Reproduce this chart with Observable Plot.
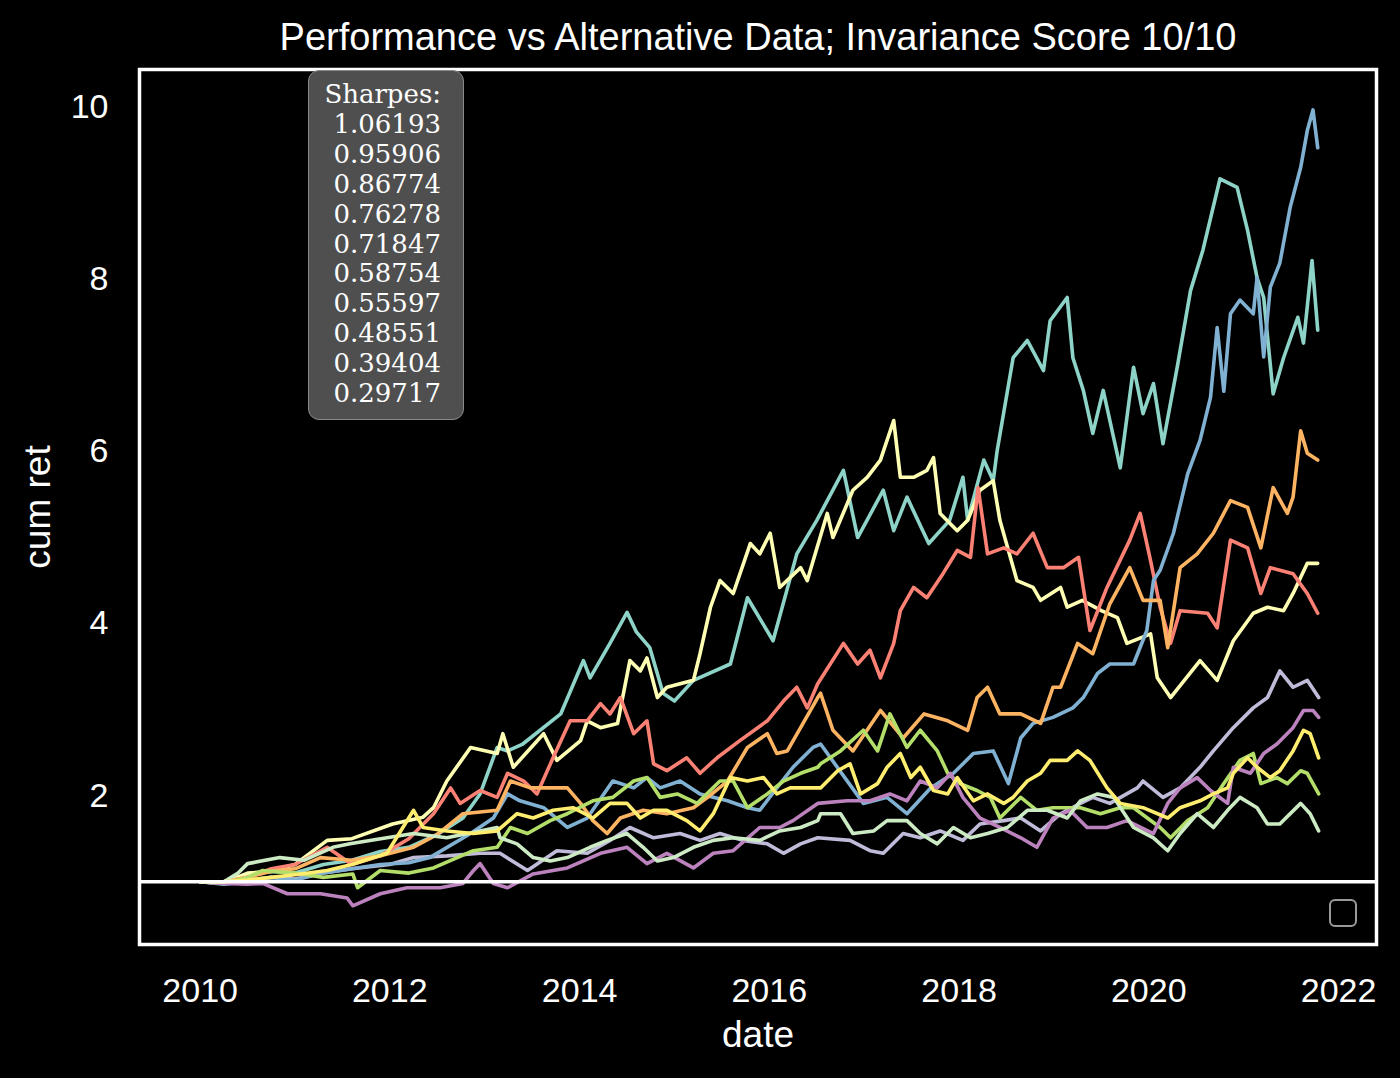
<!DOCTYPE html>
<html>
<head>
<meta charset="utf-8">
<script src="https://cdn.jsdelivr.net/npm/d3@7"></script>
<script src="https://cdn.jsdelivr.net/npm/@observablehq/plot@0.6"></script>
<style>
  html, body { margin: 0; padding: 0; background: #000; }
  #wrap { position: relative; width: 1400px; height: 1078px; background: #000; overflow: hidden; }
  #sharpes {
    position: absolute; left: 308px; top: 70px; width: 156px; height: 350px;
    box-sizing: border-box; background: #4f4f4f; border: 1.5px solid #8a8a8a; border-radius: 11px;
    font-family: "DejaVu Serif", serif; font-size: 26px; line-height: 29.9px; color: #fff;
    text-align: right; padding: 9px 22px 0 0; white-space: pre;
  }
  #legendbox {
    position: absolute; left: 1329px; top: 899px; width: 28px; height: 28px; box-sizing: border-box;
    border: 2.5px solid #9a9a9a; border-radius: 6px;
  }
</style>
</head>
<body>
<div id="wrap"><div id="chart"></div><div id="sharpes"></div><div id="legendbox"></div></div>
<script>
// ---- data (decimal year, cumulative return) ----
const seriesNames = ["s1","s2","s3","s4","s5","s6","s7","s8","s9","s10"];
const seriesColors = ["#8dd3c7","#feffb3","#bfbbd9","#fa8174","#81b1d2","#fdb462","#b3de69","#bc82bd","#ccebc4","#ffed6f"];
const sharpeValues = ["1.06193","0.95906","0.86774","0.76278","0.71847","0.58754","0.55597","0.48551","0.39404","0.29717"];
const xTickYears = [2010,2012,2014,2016,2018,2020,2022];
const yTickValues = [2,4,6,8,10];

const s1 = [[2010.0,1.0],[2010.25,1.0],[2010.5,1.08],[2010.75,1.12],[2011.0,1.1],[2011.3,1.2],[2011.6,1.25],[2011.9,1.35],[2012.2,1.4],[2012.5,1.55],[2012.77,1.74],[2012.95,2.02],[2013.13,2.56],[2013.24,2.52],[2013.4,2.6],[2013.8,2.95],[2014.04,3.57],[2014.11,3.37],[2014.32,3.77],[2014.5,4.13],[2014.6,3.9],[2014.74,3.72],[2014.88,3.19],[2015.0,3.1],[2015.2,3.34],[2015.59,3.53],[2015.77,4.30],[2016.04,3.8],[2016.29,4.81],[2016.5,5.2],[2016.78,5.78],[2016.93,5.0],[2017.2,5.55],[2017.31,5.08],[2017.45,5.47],[2017.68,4.93],[2017.9,5.2],[2018.04,5.70],[2018.09,5.2],[2018.26,5.9],[2018.36,5.66],[2018.4,6.0],[2018.57,7.09],[2018.72,7.29],[2018.89,6.94],[2018.96,7.52],[2019.14,7.79],[2019.2,7.09],[2019.31,6.71],[2019.41,6.21],[2019.52,6.71],[2019.70,5.81],[2019.84,6.98],[2019.94,6.44],[2020.05,6.79],[2020.15,6.09],[2020.30,6.98],[2020.44,7.87],[2020.57,8.34],[2020.75,9.17],[2020.93,9.07],[2021.04,8.57],[2021.14,8.02],[2021.21,7.79],[2021.31,6.67],[2021.42,7.09],[2021.57,7.56],[2021.63,7.26],[2021.72,8.22],[2021.78,7.41]];
const s2 = [[2010.0,1.0],[2010.25,0.99],[2010.5,1.1],[2010.75,1.12],[2011.0,1.2],[2011.34,1.48],[2011.6,1.5],[2012.03,1.67],[2012.35,1.75],[2012.46,1.86],[2012.6,2.17],[2012.85,2.56],[2013.13,2.49],[2013.19,2.72],[2013.30,2.33],[2013.62,2.72],[2013.76,2.41],[2014.01,2.64],[2014.08,2.87],[2014.22,2.79],[2014.40,2.84],[2014.53,3.57],[2014.64,3.45],[2014.71,3.6],[2014.82,3.14],[2014.92,3.26],[2015.2,3.34],[2015.27,3.65],[2015.38,4.19],[2015.48,4.5],[2015.62,4.35],[2015.80,4.93],[2015.90,4.81],[2016.01,5.05],[2016.11,4.42],[2016.33,4.65],[2016.40,4.5],[2016.61,5.28],[2016.67,5.0],[2016.88,5.55],[2017.03,5.70],[2017.17,5.9],[2017.31,6.36],[2017.38,5.7],[2017.52,5.7],[2017.66,5.78],[2017.73,5.93],[2017.80,5.28],[2017.98,5.08],[2018.09,5.2],[2018.22,5.55],[2018.36,5.66],[2018.43,5.2],[2018.61,4.5],[2018.78,4.42],[2018.86,4.27],[2019.07,4.42],[2019.14,4.19],[2019.3,4.27],[2019.5,4.15],[2019.67,4.07],[2019.77,3.77],[2020.02,3.88],[2020.09,3.37],[2020.23,3.14],[2020.54,3.57],[2020.72,3.34],[2020.89,3.8],[2021.10,4.12],[2021.25,4.19],[2021.42,4.15],[2021.52,4.35],[2021.67,4.7],[2021.78,4.7]];
const s3 = [[2010.0,1.0],[2010.25,0.98],[2010.5,1.02],[2010.75,1.05],[2011.0,1.03],[2011.3,1.1],[2011.6,1.15],[2012.0,1.2],[2012.25,1.28],[2012.6,1.3],[2012.95,1.33],[2013.16,1.33],[2013.45,1.13],[2013.76,1.36],[2014.08,1.33],[2014.32,1.48],[2014.53,1.63],[2014.78,1.51],[2015.06,1.56],[2015.27,1.48],[2015.48,1.56],[2015.72,1.48],[2015.98,1.44],[2016.15,1.33],[2016.33,1.44],[2016.51,1.51],[2016.85,1.48],[2017.06,1.36],[2017.20,1.33],[2017.41,1.56],[2017.59,1.51],[2017.80,1.59],[2018.04,1.48],[2018.22,1.67],[2018.47,1.71],[2018.65,1.74],[2018.86,1.59],[2019.07,1.79],[2019.28,1.91],[2019.41,1.98],[2019.59,1.91],[2019.88,2.09],[2019.94,2.17],[2020.15,1.98],[2020.33,2.09],[2020.54,2.33],[2020.68,2.52],[2020.89,2.79],[2021.10,3.02],[2021.25,3.14],[2021.38,3.45],[2021.52,3.26],[2021.67,3.34],[2021.79,3.14]];
const s4 = [[2010.0,1.0],[2010.25,1.0],[2010.5,1.05],[2010.75,1.15],[2011.0,1.2],[2011.34,1.40],[2011.6,1.2],[2011.9,1.3],[2012.2,1.5],[2012.46,1.79],[2012.64,2.09],[2012.74,1.91],[2012.95,2.06],[2013.13,1.98],[2013.24,2.26],[2013.41,2.17],[2013.55,2.02],[2013.72,2.44],[2013.90,2.87],[2014.08,2.87],[2014.22,3.07],[2014.32,2.95],[2014.43,3.14],[2014.57,2.72],[2014.71,2.87],[2014.78,2.37],[2014.92,2.29],[2015.13,2.44],[2015.27,2.26],[2015.45,2.44],[2015.69,2.64],[2015.98,2.87],[2016.15,3.1],[2016.29,3.26],[2016.40,3.02],[2016.51,3.30],[2016.78,3.77],[2016.93,3.53],[2017.06,3.69],[2017.17,3.37],[2017.31,3.77],[2017.38,4.15],[2017.52,4.42],[2017.66,4.30],[2017.83,4.58],[2017.98,4.85],[2018.12,4.77],[2018.20,5.58],[2018.30,4.81],[2018.47,4.88],[2018.61,4.81],[2018.78,5.05],[2018.93,4.65],[2019.10,4.65],[2019.26,4.77],[2019.38,3.92],[2019.56,4.42],[2019.80,4.97],[2019.91,5.28],[2020.02,4.73],[2020.12,4.19],[2020.23,3.77],[2020.33,4.15],[2020.62,4.12],[2020.72,3.95],[2020.86,4.97],[2021.04,4.88],[2021.18,4.35],[2021.28,4.65],[2021.52,4.58],[2021.67,4.35],[2021.78,4.12]];
const s5 = [[2010.0,1.0],[2010.25,0.97],[2010.5,1.0],[2010.75,1.05],[2011.0,1.02],[2011.3,1.1],[2011.6,1.15],[2011.9,1.2],[2012.2,1.22],[2012.42,1.28],[2012.85,1.56],[2013.09,1.74],[2013.24,2.02],[2013.37,1.94],[2013.62,1.86],[2013.87,1.63],[2014.08,1.74],[2014.35,2.17],[2014.57,2.09],[2014.71,2.21],[2014.85,2.09],[2015.06,2.17],[2015.27,2.02],[2015.56,1.94],[2015.77,1.86],[2015.90,1.83],[2016.08,2.09],[2016.25,2.33],[2016.46,2.56],[2016.54,2.6],[2016.99,1.91],[2017.24,1.98],[2017.45,1.79],[2017.70,2.09],[2017.94,2.26],[2018.15,2.49],[2018.36,2.52],[2018.52,2.14],[2018.65,2.67],[2018.78,2.84],[2018.99,2.91],[2019.20,3.02],[2019.31,3.14],[2019.46,3.42],[2019.59,3.53],[2019.84,3.53],[2019.98,3.92],[2020.05,4.5],[2020.12,4.62],[2020.26,5.05],[2020.41,5.74],[2020.54,6.13],[2020.65,6.63],[2020.72,7.44],[2020.79,6.7],[2020.86,7.60],[2020.96,7.76],[2021.10,7.60],[2021.14,8.02],[2021.21,7.1],[2021.28,7.91],[2021.38,8.19],[2021.49,8.84],[2021.60,9.30],[2021.67,9.73],[2021.73,9.97],[2021.78,9.53]];
const s6 = [[2010.0,1.0],[2010.25,1.0],[2010.5,1.05],[2010.75,1.12],[2011.0,1.15],[2011.27,1.28],[2011.6,1.25],[2011.9,1.3],[2012.25,1.40],[2012.5,1.55],[2012.77,1.79],[2013.13,1.83],[2013.27,2.17],[2013.48,2.09],[2013.72,2.09],[2013.87,2.09],[2014.01,1.91],[2014.14,1.71],[2014.29,1.56],[2014.43,1.74],[2014.67,1.83],[2014.92,1.79],[2015.20,1.86],[2015.35,1.98],[2015.56,2.17],[2015.77,2.56],[2015.98,2.72],[2016.08,2.49],[2016.19,2.52],[2016.33,2.79],[2016.51,3.14],[2016.54,3.19],[2016.67,2.76],[2016.88,2.52],[2017.17,2.99],[2017.41,2.67],[2017.63,2.95],[2017.88,2.87],[2018.09,2.76],[2018.19,3.14],[2018.30,3.26],[2018.43,2.95],[2018.65,2.95],[2018.86,2.84],[2018.99,3.26],[2019.07,3.26],[2019.25,3.77],[2019.41,3.65],[2019.59,4.23],[2019.80,4.65],[2019.94,4.27],[2020.12,4.27],[2020.20,3.72],[2020.33,4.65],[2020.51,4.81],[2020.68,5.05],[2020.86,5.43],[2021.04,5.35],[2021.18,4.88],[2021.31,5.58],[2021.46,5.28],[2021.52,5.47],[2021.60,6.24],[2021.67,5.98],[2021.78,5.90]];
const s7 = [[2010.0,1.0],[2010.25,0.98],[2010.5,1.05],[2010.66,1.13],[2011.0,1.1],[2011.3,1.05],[2011.61,1.09],[2011.66,0.93],[2011.90,1.13],[2012.2,1.1],[2012.46,1.16],[2012.88,1.36],[2013.13,1.40],[2013.27,1.63],[2013.45,1.56],[2013.69,1.71],[2013.87,1.79],[2014.14,1.94],[2014.35,1.98],[2014.57,2.17],[2014.71,2.21],[2014.85,1.98],[2015.03,2.02],[2015.24,1.91],[2015.48,2.17],[2015.62,2.17],[2015.77,1.86],[2015.98,2.02],[2016.15,2.17],[2016.33,2.26],[2016.51,2.33],[2016.54,2.37],[2016.75,2.52],[2016.99,2.76],[2017.14,2.52],[2017.27,2.95],[2017.45,2.56],[2017.59,2.76],[2017.77,2.52],[2017.88,2.26],[2018.01,2.14],[2018.19,2.06],[2018.33,1.98],[2018.43,1.74],[2018.65,1.98],[2018.82,1.83],[2018.99,1.86],[2019.28,1.86],[2019.49,1.79],[2019.70,1.86],[2019.84,1.86],[2020.12,1.63],[2020.23,1.51],[2020.41,1.71],[2020.62,1.86],[2020.79,2.14],[2020.96,2.41],[2021.10,2.49],[2021.18,2.14],[2021.35,2.21],[2021.46,2.14],[2021.60,2.29],[2021.67,2.26],[2021.79,2.02]];
const s8 = [[2010.0,1.0],[2010.25,0.98],[2010.5,0.97],[2010.66,0.98],[2010.92,0.86],[2011.27,0.86],[2011.55,0.81],[2011.61,0.72],[2011.90,0.86],[2012.18,0.93],[2012.53,0.93],[2012.77,0.98],[2012.88,1.13],[2012.95,1.21],[2013.09,0.98],[2013.24,0.93],[2013.51,1.09],[2013.87,1.16],[2014.22,1.33],[2014.50,1.40],[2014.71,1.21],[2014.92,1.33],[2015.20,1.16],[2015.41,1.33],[2015.62,1.36],[2015.90,1.63],[2016.11,1.63],[2016.25,1.71],[2016.51,1.91],[2016.82,1.94],[2017.06,1.94],[2017.27,2.02],[2017.45,1.94],[2017.59,2.17],[2017.77,2.09],[2017.91,2.26],[2018.04,1.98],[2018.22,1.74],[2018.43,1.63],[2018.65,1.51],[2018.82,1.40],[2018.99,1.74],[2019.17,1.83],[2019.35,1.63],[2019.56,1.63],[2019.77,1.71],[2020.05,1.56],[2020.20,1.91],[2020.33,2.09],[2020.51,2.21],[2020.65,2.06],[2020.83,1.91],[2020.89,2.33],[2021.07,2.26],[2021.21,2.49],[2021.35,2.60],[2021.52,2.79],[2021.63,2.99],[2021.73,2.99],[2021.79,2.91]];
const s9 = [[2010.0,1.0],[2010.25,1.0],[2010.4,1.1],[2010.5,1.21],[2010.84,1.28],[2011.1,1.25],[2011.40,1.40],[2011.58,1.44],[2011.97,1.51],[2012.25,1.56],[2012.60,1.51],[2012.95,1.59],[2013.13,1.63],[2013.16,1.51],[2013.34,1.44],[2013.51,1.28],[2013.69,1.24],[2013.87,1.28],[2014.11,1.40],[2014.29,1.48],[2014.50,1.56],[2014.67,1.40],[2014.82,1.24],[2014.99,1.28],[2015.20,1.40],[2015.41,1.48],[2015.62,1.51],[2015.90,1.48],[2016.11,1.59],[2016.33,1.63],[2016.51,1.71],[2016.54,1.79],[2016.75,1.79],[2016.88,1.56],[2017.10,1.59],[2017.24,1.71],[2017.45,1.71],[2017.59,1.56],[2017.77,1.44],[2017.94,1.63],[2018.12,1.51],[2018.30,1.56],[2018.51,1.63],[2018.72,1.83],[2018.93,1.83],[2019.14,1.74],[2019.28,1.94],[2019.46,2.02],[2019.63,1.98],[2019.84,1.63],[2020.05,1.51],[2020.20,1.36],[2020.33,1.56],[2020.51,1.79],[2020.68,1.63],[2020.83,1.83],[2020.96,1.98],[2021.14,1.86],[2021.25,1.67],[2021.38,1.67],[2021.60,1.91],[2021.70,1.79],[2021.79,1.59]];
const s10 = [[2010.0,1.0],[2010.25,1.0],[2010.5,1.02],[2010.75,1.05],[2011.0,1.08],[2011.34,1.13],[2011.6,1.2],[2011.97,1.33],[2012.25,1.83],[2012.35,1.63],[2012.60,1.59],[2012.88,1.56],[2013.13,1.59],[2013.34,1.79],[2013.51,1.74],[2013.72,1.83],[2013.93,1.86],[2014.14,1.74],[2014.32,1.91],[2014.50,1.91],[2014.64,1.74],[2014.78,1.83],[2014.92,1.83],[2015.13,1.71],[2015.27,1.59],[2015.41,1.79],[2015.59,2.21],[2015.77,2.17],[2015.94,2.21],[2016.08,2.02],[2016.22,2.09],[2016.40,2.09],[2016.54,2.09],[2016.72,2.29],[2016.85,2.37],[2016.96,2.02],[2017.14,2.14],[2017.24,2.33],[2017.38,2.49],[2017.49,2.21],[2017.59,2.33],[2017.73,2.06],[2017.88,2.02],[2017.98,2.21],[2018.15,1.94],[2018.30,2.02],[2018.47,1.91],[2018.57,1.98],[2018.72,2.17],[2018.86,2.26],[2018.96,2.41],[2019.14,2.41],[2019.25,2.52],[2019.38,2.41],[2019.56,2.09],[2019.70,1.91],[2019.94,1.86],[2020.20,1.74],[2020.33,1.86],[2020.54,1.94],[2020.68,2.02],[2020.83,2.09],[2020.89,2.26],[2021.04,2.44],[2021.14,2.33],[2021.28,2.21],[2021.38,2.29],[2021.52,2.52],[2021.63,2.76],[2021.70,2.72],[2021.79,2.44]];

const seriesData = [s1,s2,s3,s4,s5,s6,s7,s8,s9,s10];
const xDomainYears = [2009.36, 2022.40];
const yDomain = [0.27, 10.44];

// ---- build ----
function yearToDate(y) {
  const yr = Math.floor(y);
  const a = Date.UTC(yr, 0, 1), b = Date.UTC(yr + 1, 0, 1);
  return new Date(a + (y - yr) * (b - a));
}
const rows = [];
seriesData.forEach((arr, i) => arr.forEach(([t, v]) => rows.push({series: seriesNames[i], date: yearToDate(t), value: v})));

const font = "'Liberation Sans', Arial, Helvetica, sans-serif";
const lineMarks = seriesNames.map((name, i) =>
  Plot.line(rows.filter(r => r.series === name), {x: "date", y: "value", stroke: seriesColors[i], strokeWidth: 3.6, strokeLinejoin: "round"})
);

const chart = Plot.plot({
  width: 1400, height: 1078,
  marginLeft: 139, marginRight: 24, marginTop: 69, marginBottom: 134,
  style: {background: "black", color: "white", fontFamily: font, fontSize: "34px"},
  x: {type: "utc", domain: xDomainYears.map(yearToDate), ticks: xTickYears.map(y => new Date(Date.UTC(y, 0, 1))), tickFormat: "%Y", tickSize: 0, tickPadding: 33, label: null},
  y: {domain: yDomain, ticks: yTickValues, tickSize: 0, tickPadding: 31, label: null},
  marks: [
    ...lineMarks,
    Plot.ruleY([1], {stroke: "white", strokeWidth: 3.5}),
    Plot.frame({stroke: "white", strokeWidth: 3.5}),
    Plot.text(["Performance vs Alternative Data; Invariance Score 10/10"], {frameAnchor: "top", dy: -32, lineAnchor: "middle", textAnchor: "middle", text: d => d, fontSize: 38, fill: "white"}),
    Plot.text(["cum ret"], {frameAnchor: "left", dx: -101, rotate: -90, lineAnchor: "middle", textAnchor: "middle", text: d => d, fontSize: 37, fill: "white"}),
    Plot.text(["date"], {frameAnchor: "bottom", dy: 91, lineAnchor: "middle", textAnchor: "middle", text: d => d, fontSize: 37, fill: "white"})
  ]
});
document.getElementById("chart").appendChild(chart);
document.getElementById("sharpes").textContent = "Sharpes:\n" + sharpeValues.join("\n");
</script>
</body>
</html>
